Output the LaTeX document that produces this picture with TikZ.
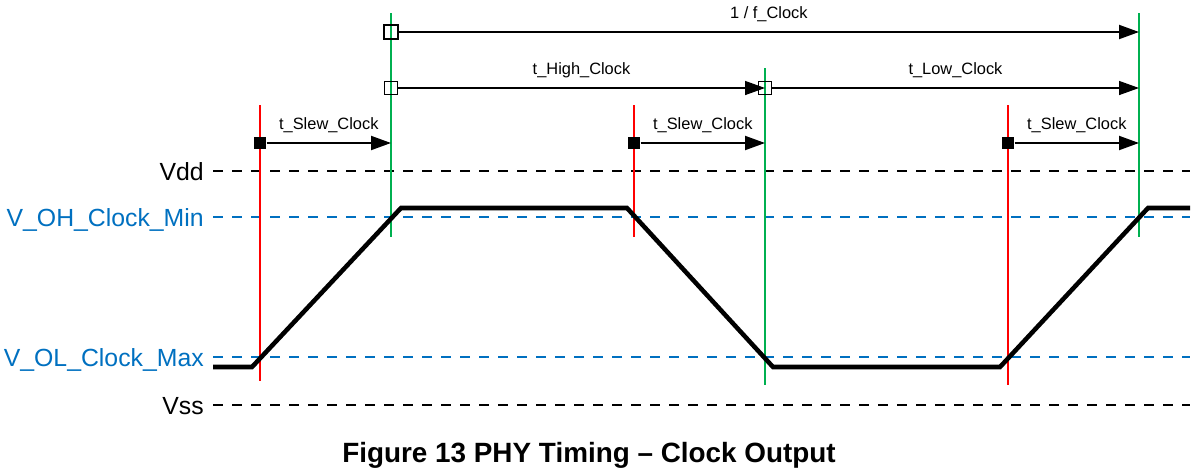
\documentclass[tikz,border=0pt]{standalone}
\usepackage{fontspec}
\setmainfont{Liberation Sans}
\usepackage{xcolor}
\usetikzlibrary{arrows.meta}

\definecolor{edgered}{RGB}{255,0,0}
\definecolor{edgegreen}{RGB}{0,176,80}
\definecolor{levelblue}{RGB}{0,112,192}

\tikzset{
  level/.style={line width=1.5pt,dash pattern=on 7.5pt off 6.75pt},
  edgeline/.style={line width=1.5pt},
  tarrow/.style={line width=1.5pt,-{Triangle[length=15pt,width=10.5pt]}},
  opensq/.style={draw,line width=1pt,minimum size=9.5pt,inner sep=0pt},
  fillsq/.style={fill=black,minimum size=9.5pt,inner sep=0pt},
  tlabel/.style={font=\fontsize{12.3}{14}\selectfont,anchor=base,inner sep=0pt,yshift=10.5pt},
  vlabel/.style={font=\fontsize{18.6}{22}\selectfont,anchor=base east,inner sep=0.75pt}
}

\begin{document}
\begin{tikzpicture}[x=0.75pt,y=0.75pt,yscale=-1,xscale=1]
\useasboundingbox (0,0) rectangle (1193,472);

% Levels
\draw[level] (213,171) -- (1190,171);
\draw[level,levelblue] (213,217) -- (1190,217);
\draw[level,levelblue] (213,357) -- (1190,357);
\draw[level] (213,405) -- (1190,405);

% Level labels
\node[vlabel] (vdd) at (205,180) {Vdd};
\node[vlabel,levelblue] (voh) at (205,226.5) {V\_OH\_Clock\_Min};
\node[vlabel,levelblue] (vol) at (205,366.5) {V\_OL\_Clock\_Max};
\node[vlabel] (vss) at (205,414) {Vss};

% Edge markers
\draw[edgeline,edgered] (260,105) -- (260,381);
\draw[edgeline,edgegreen] (391,13) -- (391,237);
\draw[edgeline,edgered] (634,105) -- (634,237);
\draw[edgeline,edgegreen] (765,68) -- (765,385);
\draw[edgeline,edgered] (1008,105) -- (1008,385);
\draw[edgeline,edgegreen] (1139,13) -- (1139,237);

% Clock waveform
\draw[line width=3.4pt] (213,367) -- (252,367) -- (401,208) -- (627,208) -- (773,367) -- (1000,367) -- (1148,208) -- (1190,208);

% Timing points
\node[opensq,minimum size=10.5pt] (fstart) at (391,32) {};
\coordinate (fend) at (1139,32);
\node[opensq] (hstart) at (391,88) {};
\node[opensq] (lstart) at (765,88) {};
\coordinate (lend) at (1139,88);
\node[fillsq] (sa) at (260,143) {};
\coordinate (sae) at (391,143);
\node[fillsq] (sb) at (634,143) {};
\coordinate (sbe) at (765,143);
\node[fillsq] (sc) at (1008,143) {};
\coordinate (sce) at (1139,143);

% Timing arrows
\draw[tarrow] (fstart) -- (fend) node[tlabel,midway] (tf) {1 / f\_Clock};
\draw[tarrow,line width=1.1pt] (hstart) -- (lstart.center) node[tlabel,midway] (th) {t\_High\_Clock};
\draw[tarrow,line width=1.1pt] (lstart) -- (lend) node[tlabel,midway] (tl) {t\_Low\_Clock};
\draw[tarrow] (sa) -- (sae) node[tlabel,midway] (tsa) {t\_Slew\_Clock};
\draw[tarrow] (sb) -- (sbe) node[tlabel,midway] (tsb) {t\_Slew\_Clock};
\draw[tarrow] (sc) -- (sce) node[tlabel,midway] (tsc) {t\_Slew\_Clock};

% Caption
\node[font=\fontsize{20.9}{24}\selectfont\bfseries,anchor=base] (caption) at (589,462) {Figure 13 PHY Timing -- Clock Output};

\end{tikzpicture}
\end{document}
